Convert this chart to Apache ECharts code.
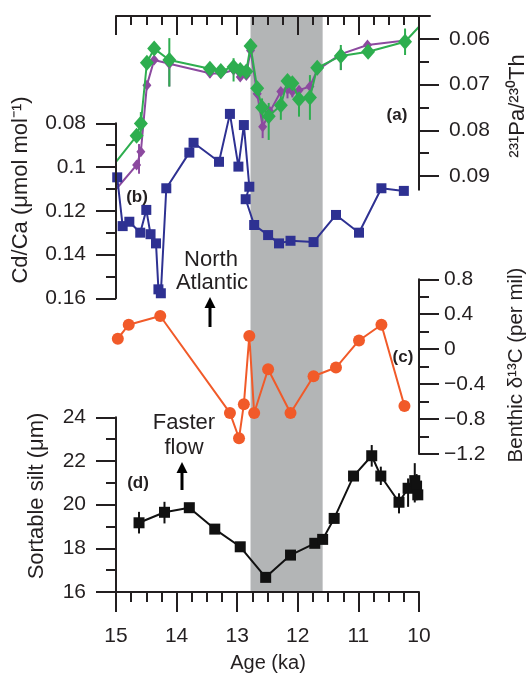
<!DOCTYPE html>
<html><head><meta charset="utf-8">
<script src="https://cdn.jsdelivr.net/npm/echarts@6/dist/echarts.min.js"></script>
<style>html,body{margin:0;padding:0;background:#fff}#c{width:530px;height:673px}</style>
</head><body><div id="c"></div>
<script>
// ---------------- DATA ----------------
const shadedRange = [12.78, 11.59];           // ka
const ageMajorTicks = [10, 11, 12, 13, 14, 15];
const ageMinorTicks = [10.25,10.5,10.75,11.25,11.5,11.75,12.25,12.5,12.75,13.25,13.5,13.75,14.25,14.5,14.75];
const paThTicks = [0.06, 0.07, 0.08, 0.09];
const paThMinorTicks = [0.065, 0.075, 0.085];

// (a) 231Pa/230Th – green core
const greenAge = [15.0, 14.66, 14.59, 14.49, 14.37, 14.12, 13.45, 13.27, 13.06, 12.95, 12.85, 12.78, 12.67, 12.59, 12.48, 12.28, 12.17, 12.09, 11.98, 11.80, 11.68, 11.29, 10.84, 10.23, 10.0];
const greenVal = [0.0869, 0.0812, 0.0785, 0.0652, 0.0621, 0.0646, 0.0665, 0.0670, 0.0661, 0.0668, 0.0671, 0.0615, 0.0708, 0.0750, 0.0769, 0.0745, 0.0692, 0.0697, 0.0732, 0.0728, 0.0663, 0.0637, 0.0628, 0.0606, 0.0573];
const greenErrAge = [14.59, 14.12, 13.45, 13.06, 12.95, 12.78, 12.59, 12.48, 12.28, 12.17, 12.09, 11.98, 11.80, 11.68, 11.29, 10.23];
const greenErrLo  = [0.0760, 0.0598, 0.0657, 0.0642, 0.0660, 0.0600, 0.0730, 0.0740, 0.0715, 0.0680, 0.0688, 0.0704, 0.0679, 0.0653, 0.0613, 0.0577];
const greenErrHi  = [0.0810, 0.0704, 0.0675, 0.0693, 0.0680, 0.0630, 0.0780, 0.0821, 0.0777, 0.0705, 0.0712, 0.0770, 0.0777, 0.0676, 0.0668, 0.0635];

// (a) 231Pa/230Th – purple core
const purpleAge = [15.0, 14.66, 14.59, 14.49, 14.37, 14.12, 13.45, 13.27, 13.06, 12.95, 12.85, 12.78, 12.67, 12.58, 12.46, 12.28, 12.17, 12.09, 11.98, 11.80, 11.68, 11.29, 10.85, 10.23];
const purpleVal = [0.0929, 0.0876, 0.0847, 0.0701, 0.0646, 0.0654, 0.0675, 0.0676, 0.0668, 0.0683, 0.0680, 0.0625, 0.0720, 0.0792, 0.0759, 0.0715, 0.0710, 0.0715, 0.0712, 0.0704, 0.0668, 0.0633, 0.0613, 0.0603];
const purpleErrAge = [14.62, 14.12, 13.45, 12.58, 12.17, 12.09, 11.29, 10.23];
const purpleErrLo  = [0.0830, 0.0640, 0.0668, 0.0770, 0.0695, 0.0700, 0.0620, 0.0590];
const purpleErrHi  = [0.0895, 0.0704, 0.0685, 0.0817, 0.0730, 0.0728, 0.0668, 0.0620];

// (b) Cd/Ca (µmol/mol)
const cdAge = [14.98, 14.89, 14.78, 14.60, 14.50, 14.43, 14.34, 14.30, 14.26, 14.17, 13.79, 13.72, 13.30, 13.12, 12.98, 12.89, 12.80, 12.86, 12.72, 12.49, 12.31, 12.12, 11.74, 11.37, 10.99, 10.62, 10.25];
const cdVal = [0.1047, 0.1270, 0.1250, 0.1300, 0.1196, 0.1307, 0.1349, 0.1559, 0.1577, 0.1097, 0.0934, 0.0889, 0.0976, 0.0757, 0.0998, 0.0808, 0.1090, 0.1147, 0.1265, 0.1311, 0.1349, 0.1337, 0.1343, 0.1219, 0.1300, 0.1097, 0.1109];

// (c) Benthic d13C (per mil)
const d13Age = [14.97, 14.79, 14.27, 13.12, 12.97, 12.89, 12.80, 12.72, 12.49, 12.12, 11.74, 11.37, 10.99, 10.62, 10.24];
const d13Val = [0.12, 0.28, 0.38, -0.73, -1.02, -0.63, 0.15, -0.73, -0.23, -0.73, -0.31, -0.21, 0.10, 0.28, -0.65];

// (d) Sortable silt (µm)
const siltAge = [14.62, 14.20, 13.79, 13.37, 12.95, 12.53, 12.12, 11.72, 11.59, 11.40, 11.08, 10.78, 10.63, 10.33, 10.18, 10.07, 10.04, 10.02];
const siltVal = [19.17, 19.65, 19.86, 18.88, 18.07, 16.67, 17.69, 18.23, 18.41, 19.37, 21.31, 22.24, 21.31, 20.11, 20.75, 21.10, 20.85, 20.45];
const siltErrAge = [14.62, 14.20, 10.78, 10.63, 10.33, 10.18, 10.07, 10.04];
const siltErrLo  = [18.68, 19.14, 21.74, 20.90, 19.60, 19.90, 20.10, 20.20];
const siltErrHi  = [19.67, 20.13, 22.73, 21.74, 20.52, 21.20, 21.90, 21.40];

// ---------------- CHART ----------------
const FONT = "'Liberation Sans', Arial, Helvetica, sans-serif";
const INK = '#231f20';
const C_GREEN = '#2eae4f', C_PURPLE = '#8c4a9f', C_BLUE = '#2e3192', C_ORANGE = '#f15a29', C_BLACK = '#111111', C_BAND = '#b3b5b6';
const X0 = 116, XW = 303;

const chart = echarts.init(document.getElementById('c'), null, {renderer: 'canvas'});

const lineStyleAxis = {color: INK, width: 2};
function hiddenX(g, min, max) { return {type: 'value', gridIndex: g, min: min ?? 10, max: max ?? 15, inverse: true, show: false}; }
function hiddenY(g, min, max, inv) { return {type: 'value', gridIndex: g, min, max, inverse: !!inv, show: false}; }

function errSeries(xi, yi, ages, lo, hi, color, w) {
  return {
    type: 'custom', xAxisIndex: xi, yAxisIndex: yi, z: 3,
    data: ages.map((a, i) => [a, lo[i], hi[i]]),
    renderItem: function (params, api) {
      const p1 = api.coord([api.value(0), api.value(1)]);
      const p2 = api.coord([api.value(0), api.value(2)]);
      return {type: 'line', shape: {x1: p1[0], y1: p1[1], x2: p2[0], y2: p2[1]}, style: {stroke: color, lineWidth: w}};
    },
    silent: true, animation: false
  };
}

function lineData(ages, vals, edgeFirst, edgeLast) {
  return ages.map((a, i) => {
    const d = {value: [a, vals[i]]};
    if ((edgeFirst && i === 0) || (edgeLast && i === ages.length - 1)) d.symbol = 'none';
    return d;
  });
}

const grids = [
  {left: X0, width: XW, top: 15, height: 577},          // 0 band
  {left: X0, width: XW, top: 26.7, height: 163.0},      // 1 Pa/Th
  {left: X0, width: XW, top: 123.3, height: 175},       // 2 Cd/Ca
  {left: X0, width: XW, top: 279.3, height: 174.7},     // 3 d13C
  {left: X0, width: XW, top: 417.3, height: 174.7},     // 4 silt
  {left: X0, width: 314, top: 15, height: 1}            // 5 top axis
];

const tickLabel = {fontFamily: FONT, fontSize: 21, color: INK};

const xAxes = [
  hiddenX(0), hiddenX(1), hiddenX(2), hiddenX(3),
  { // 4 bottom age axis
    type: 'value', gridIndex: 4, position: 'bottom', min: 10, max: 15, inverse: true, interval: 1,
    axisLine: {show: true, lineStyle: lineStyleAxis},
    axisTick: {show: true, length: 20, lineStyle: {color: INK, width: 2}},
    minorTick: {show: true, splitNumber: 4, length: 10, lineStyle: {color: INK, width: 2}},
    axisLabel: Object.assign({margin: 34}, tickLabel),
    splitLine: {show: false}, minorSplitLine: {show: false}, z: 5
  },
  { // 5 top axis, major ticks
    type: 'value', gridIndex: 5, position: 'top', min: 9.82, max: 15, inverse: true,
    axisLine: {show: true, lineStyle: lineStyleAxis},
    axisTick: {show: true, inside: true, length: 19, customValues: ageMajorTicks, lineStyle: {color: INK, width: 2}},
    axisLabel: {show: false}, splitLine: {show: false}, z: 5
  },
  { // 6 top axis, minor ticks
    type: 'value', gridIndex: 5, position: 'top', min: 9.82, max: 15, inverse: true,
    axisLine: {show: false},
    axisTick: {show: true, inside: true, length: 10, customValues: ageMinorTicks, lineStyle: {color: INK, width: 2}},
    axisLabel: {show: false}, splitLine: {show: false}, z: 5
  }
];

function fmtD13(v) {
  const r = Math.round(v * 10) / 10;
  if (r === 0) return '0';
  return (r < 0 ? '\u2212' : '') + Math.abs(r).toFixed(1);
}

const yAxes = [
  hiddenY(0, 0, 1),
  { // 1 Pa/Th major
    type: 'value', gridIndex: 1, position: 'right', min: 0.0573, max: 0.093, inverse: true,
    axisLine: {show: true, lineStyle: lineStyleAxis},
    axisTick: {show: true, length: 20, customValues: paThTicks, lineStyle: {color: INK, width: 2}},
    axisLabel: Object.assign({margin: 30, customValues: paThTicks, formatter: v => v.toFixed(2)}, tickLabel),
    splitLine: {show: false}, z: 5
  },
  { // 2 Pa/Th minor
    type: 'value', gridIndex: 1, position: 'right', min: 0.0573, max: 0.093, inverse: true,
    axisLine: {show: false},
    axisTick: {show: true, length: 10, customValues: paThMinorTicks, lineStyle: {color: INK, width: 2}},
    axisLabel: {show: false}, splitLine: {show: false}, z: 5
  },
  { // 3 Cd/Ca
    type: 'value', gridIndex: 2, position: 'left', min: 0.08, max: 0.16, inverse: true, interval: 0.02,
    axisLine: {show: true, lineStyle: lineStyleAxis},
    axisTick: {show: true, length: 20, lineStyle: {color: INK, width: 2}},
    minorTick: {show: true, splitNumber: 2, length: 10, lineStyle: {color: INK, width: 2}},
    axisLabel: Object.assign({margin: 30, formatter: v => String(+v.toFixed(2))}, tickLabel),
    splitLine: {show: false}, minorSplitLine: {show: false}, z: 5
  },
  { // 4 d13C
    type: 'value', gridIndex: 3, position: 'right', min: -1.2, max: 0.8, interval: 0.4,
    axisLine: {show: true, lineStyle: lineStyleAxis},
    axisTick: {show: true, length: 20, lineStyle: {color: INK, width: 2}},
    minorTick: {show: true, splitNumber: 2, length: 10, lineStyle: {color: INK, width: 2}},
    axisLabel: Object.assign({margin: 25, formatter: fmtD13}, tickLabel),
    splitLine: {show: false}, minorSplitLine: {show: false}, z: 5
  },
  { // 5 silt
    type: 'value', gridIndex: 4, position: 'left', min: 16, max: 24, interval: 2,
    axisLine: {show: true, lineStyle: lineStyleAxis},
    axisTick: {show: true, length: 20, lineStyle: {color: INK, width: 2}},
    minorTick: {show: true, splitNumber: 2, length: 10, lineStyle: {color: INK, width: 2}},
    axisLabel: Object.assign({margin: 30}, tickLabel),
    splitLine: {show: false}, minorSplitLine: {show: false}, z: 5
  },
  hiddenY(5, 0, 1)
];

const series = [
  { // shaded interval
    type: 'custom', xAxisIndex: 0, yAxisIndex: 0, z: 0, silent: true,
    data: [[shadedRange[0], shadedRange[1]]],
    renderItem: function (params, api) {
      const a = api.coord([api.value(0), 1]);
      const b = api.coord([api.value(1), 0]);
      return {type: 'rect', shape: {x: a[0], y: a[1], width: b[0] - a[0], height: b[1] - a[1]}, style: {fill: C_BAND}};
    }
  },
  errSeries(1, 1, purpleErrAge, purpleErrLo, purpleErrHi, C_PURPLE, 2),
  {
    type: 'line', xAxisIndex: 1, yAxisIndex: 1, z: 3, clip: false,
    data: lineData(purpleAge, purpleVal, true, false),
    symbol: 'diamond', symbolSize: [9, 11],
    lineStyle: {color: C_PURPLE, width: 2}, itemStyle: {color: C_PURPLE}, animation: false
  },
  errSeries(1, 1, greenErrAge, greenErrLo, greenErrHi, C_GREEN, 2),
  {
    type: 'line', xAxisIndex: 1, yAxisIndex: 1, z: 4, clip: false,
    data: lineData(greenAge, greenVal, true, true),
    symbol: 'diamond', symbolSize: [14, 16],
    lineStyle: {color: C_GREEN, width: 2}, itemStyle: {color: C_GREEN}, animation: false
  },
  {
    type: 'line', xAxisIndex: 2, yAxisIndex: 3, z: 4, clip: false,
    data: lineData(cdAge, cdVal, false, false),
    symbol: 'rect', symbolSize: 10,
    lineStyle: {color: C_BLUE, width: 2}, itemStyle: {color: C_BLUE}, animation: false
  },
  {
    type: 'line', xAxisIndex: 3, yAxisIndex: 4, z: 4, clip: false,
    data: lineData(d13Age, d13Val, false, false),
    symbol: 'circle', symbolSize: 12,
    lineStyle: {color: C_ORANGE, width: 2}, itemStyle: {color: C_ORANGE}, animation: false
  },
  errSeries(4, 5, siltErrAge, siltErrLo, siltErrHi, C_BLACK, 2),
  {
    type: 'line', xAxisIndex: 4, yAxisIndex: 5, z: 4, clip: false,
    data: lineData(siltAge, siltVal, false, false),
    symbol: 'rect', symbolSize: 11,
    lineStyle: {color: C_BLACK, width: 2}, itemStyle: {color: C_BLACK}, animation: false
  }
];

function txt(text, x, y, opts) {
  opts = opts || {};
  return {
    type: 'text', x: x, y: y, rotation: opts.rot || 0, z: 10,
    style: {
      text: text, fill: INK, fontFamily: FONT, fontSize: opts.size || 22,
      fontWeight: opts.bold ? 'bold' : 'normal', align: 'center', verticalAlign: 'middle'
    }
  };
}
function arrowUp(x, yTip, yTail) {
  return [
    {type: 'line', z: 10, shape: {x1: x, y1: yTail, x2: x, y2: yTip + 8}, style: {stroke: '#000', lineWidth: 3}},
    {type: 'polygon', z: 10, shape: {points: [[x, yTip], [x - 5.5, yTip + 11], [x + 5.5, yTip + 11]]}, style: {fill: '#000'}}
  ];
}

const graphics = [
  txt('(a)', 397, 115, {bold: true, size: 17}),
  txt('(b)', 137, 197, {bold: true, size: 17}),
  txt('(c)', 403, 357, {bold: true, size: 17}),
  txt('(d)', 138, 483, {bold: true, size: 17}),
  txt('North', 211, 260),
  txt('Atlantic', 212, 283),
  txt('Faster', 184, 423),
  txt('flow', 184, 448),
  ...arrowUp(210, 297, 327),
  ...arrowUp(182, 462, 490),
  txt('Cd/Ca (\u03bcmol mol\u207b\u00b9)', 21, 190, {rot: Math.PI / 2, size: 22}),
  txt('Sortable silt (\u03bcm)', 37, 496, {rot: Math.PI / 2, size: 22}),
  txt('\u00b2\u00b3\u00b9Pa/\u00b2\u00b3\u2070Th', 518, 106, {rot: Math.PI / 2, size: 22}),
  txt('Benthic \u03b4\u00b9\u00b3C (per mil)', 516, 365, {rot: Math.PI / 2, size: 20.5}),
  txt('Age (ka)', 268, 663, {size: 20})
];

chart.setOption({
  animation: false,
  backgroundColor: '#fff',
  grid: grids,
  xAxis: xAxes,
  yAxis: yAxes,
  series: series,
  graphic: {elements: graphics}
});
</script>
</body></html>
